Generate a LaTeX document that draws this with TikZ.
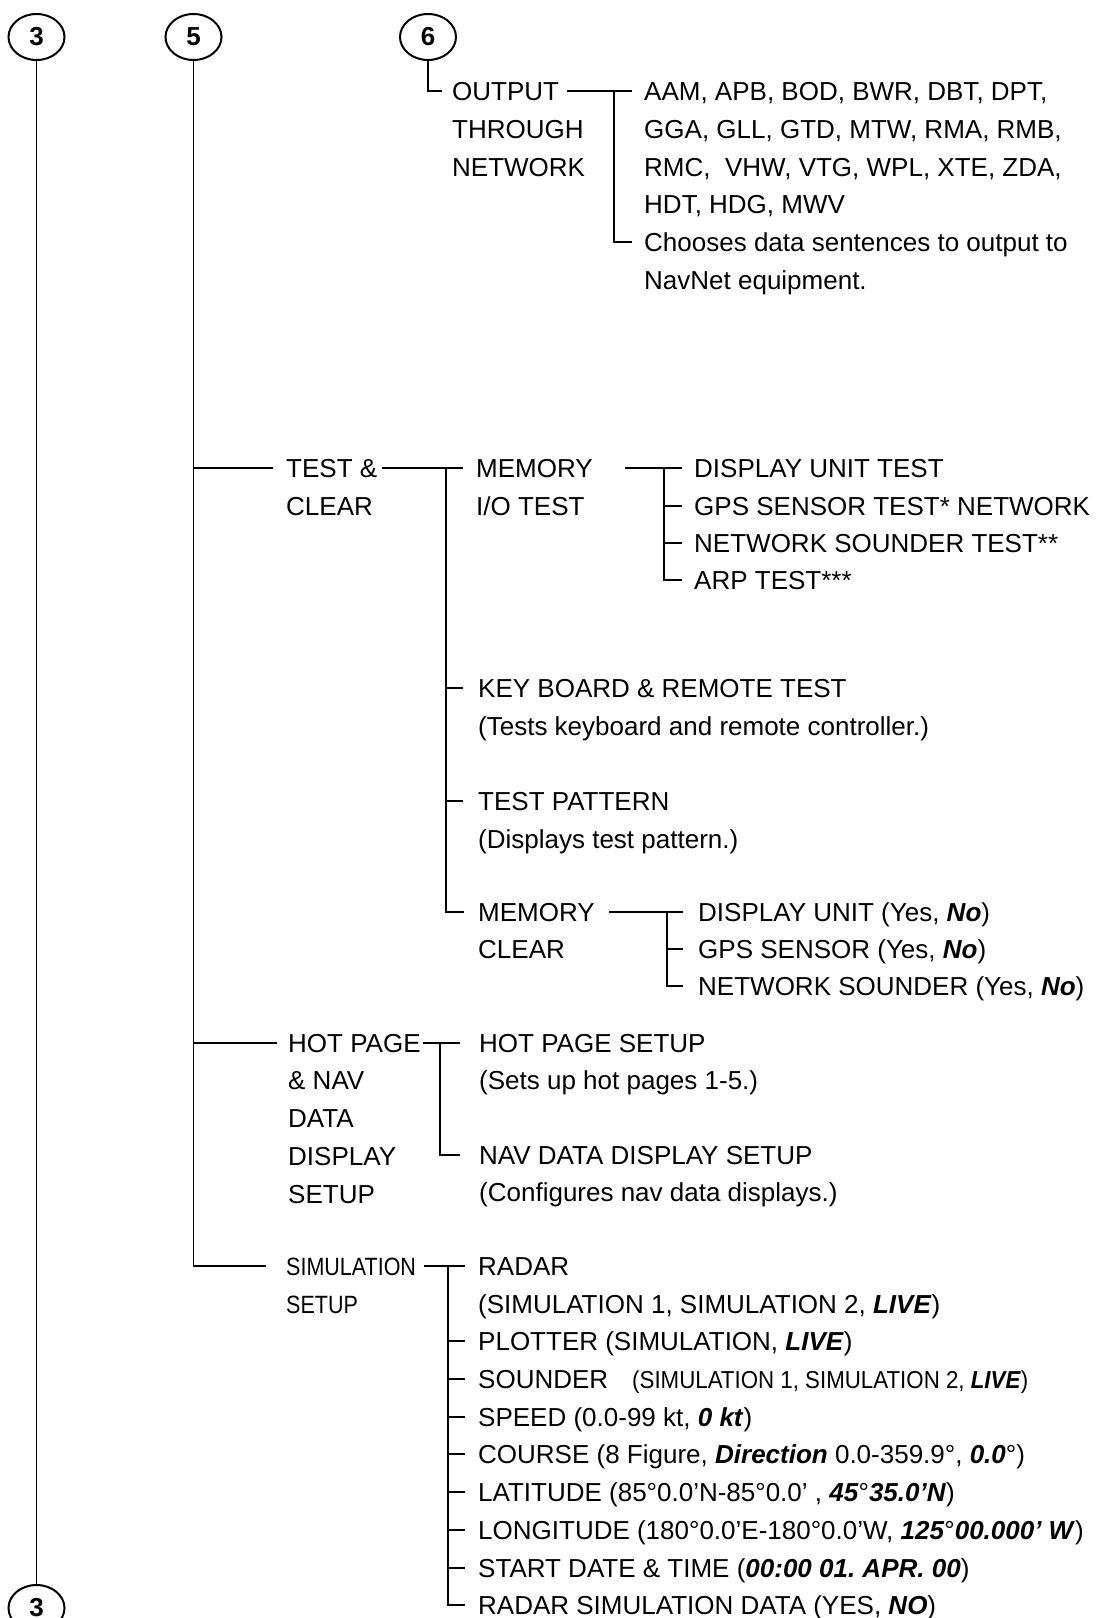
\documentclass[tikz,border=0pt]{standalone}
\usepackage{fontspec}
\setmainfont{Liberation Sans}
\newfontfamily\narrowfont[FakeStretch=0.86]{Liberation Sans}
\newfontfamily\narrowb[FakeStretch=0.91]{Liberation Sans}
\usetikzlibrary{shapes.geometric}
\newcommand\bfit[1]{\textbf{\textit{#1}}}
\frenchspacing
\tikzset{
  t/.style={anchor=west, inner sep=0pt, text height=18.6pt, text depth=0pt, font=\fontsize{26}{31}\selectfont},
  tn/.style={t, font=\fontsize{25}{30}\selectfont\narrowfont},
  ln/.style={line width=1.3pt, line cap=butt},
  circ/.style={draw, ellipse, line width=2pt, minimum width=56pt, minimum height=46pt, inner sep=0pt, font=\fontsize{26}{31}\selectfont\bfseries}
}
\begin{document}
\begin{tikzpicture}[x=1pt,y=-1pt]
\useasboundingbox (0,0) rectangle (1101,1618);
% circles
\node[circ] (c3) at (36.5,37) {3};
\node[circ] (c5) at (193.5,37) {5};
\node[circ] (c6) at (428,37) {6};
\node[circ] (c3b) at (36.5,1608) {3};
\draw[ln] (c3.south) -- (c3b.north);

% ---- output through network
\node[t] (out1) at (452,91) {OUTPUT};
\node[t] (out2) at (452,129) {THROUGH};
\node[t] (out3) at (452,167) {NETWORK};
\node[t] (s1) at (644,91) {AAM, APB, BOD, BWR, DBT, DPT,};
\node[t] (s2) at (644,129) {GGA, GLL, GTD, MTW, RMA, RMB,};
\node[t] (s3) at (644,167) {RMC, \ VHW, VTG, WPL, XTE, ZDA,};
\node[t] (s4) at (644,204) {HDT, HDG, MWV};
\node[t] (s5) at (644,242) {Chooses data sentences to output to};
\node[t] (s6) at (644,280) {NavNet equipment.};
\draw[ln] (c6.south) |- ([xshift=-10pt]out1.west);
\draw[ln] ([xshift=8pt]out1.east) -- ([xshift=-12pt]s1.west);
\coordinate (j6) at (614,91);
\draw[ln] (j6) |- ([xshift=-12pt]s5.west);

% ---- test & clear
\node[t] (tc1) at (286,468) {TEST \&};
\node[t] (tc2) at (286,506) {CLEAR};
\draw[ln] (c5.south |- tc1.west) -- ([xshift=-13pt]tc1.west);
\node[t] (mio1) at (476,468) {MEMORY};
\node[t] (mio2) at (476,506) {I/O TEST};
\draw[ln] ([xshift=5pt]tc1.east) -- ([xshift=-13pt]mio1.west);
\node[t] (kb1) at (478,688) {KEY BOARD \& REMOTE TEST};
\node[t] (kb2) at (478,726) {(Tests keyboard and remote controller.)};
\node[t] (tp1) at (478,801) {TEST PATTERN};
\node[t] (tp2) at (478,839) {(Displays test pattern.)};
\node[t] (mc1) at (478,912) {MEMORY};
\node[t] (mc2) at (478,949) {CLEAR};
\coordinate (jt) at (446,468);
\draw[ln] (jt) |- ([xshift=-14pt]mc1.west);
\draw[ln] (jt |- kb1.west) -- ([xshift=-15pt]kb1.west);
\draw[ln] (jt |- tp1.west) -- ([xshift=-15pt]tp1.west);

\node[t] (d1) at (694,468) {DISPLAY UNIT TEST};
\node[t] (d2) at (694,506) {GPS SENSOR TEST* NETWORK};
\node[t] (d3) at (694,543) {NETWORK SOUNDER TEST**};
\node[t] (d4) at (694,580) {ARP TEST***};
\draw[ln] ([xshift=32pt]mio1.east) -- ([xshift=-12pt]d1.west);
\coordinate (jm) at (664,468);
\draw[ln] (jm) |- ([xshift=-12pt]d4.west);
\draw[ln] (jm |- d2.west) -- ([xshift=-12pt]d2.west);
\draw[ln] (jm |- d3.west) -- ([xshift=-12pt]d3.west);

\node[t] (m1) at (698,912) {DISPLAY UNIT (Yes, \bfit{No})};
\node[t] (m2) at (698,949) {GPS SENSOR (Yes, \bfit{No})};
\node[t] (m3) at (698,986) {NETWORK SOUNDER (Yes, \bfit{No})};
\draw[ln] ([xshift=14pt]mc1.east) -- ([xshift=-15pt]m1.west);
\coordinate (jc) at (667,912);
\draw[ln] (jc) |- ([xshift=-15pt]m3.west);
\draw[ln] (jc |- m2.west) -- ([xshift=-15pt]m2.west);

% ---- hot page
\node[t] (hp1) at (288,1043) {HOT PAGE};
\node[t] (hp2) at (288,1080) {\& NAV};
\node[t] (hp3) at (288,1118) {DATA};
\node[t] (hp4) at (288,1156) {DISPLAY};
\node[t] (hp5) at (288,1194) {SETUP};
\draw[ln] (c5.south |- hp1.west) -- ([xshift=-11pt]hp1.west);
\node[t] (hs1) at (479,1043) {HOT PAGE SETUP};
\node[t] (hs2) at (479,1080) {(Sets up hot pages 1-5.)};
\node[t] (hs3) at (479,1155) {NAV DATA DISPLAY SETUP};
\node[t] (hs4) at (479,1192) {(Configures nav data displays.)};
\draw[ln] ([xshift=2pt]hp1.east) -- ([xshift=-19pt]hs1.west);
\coordinate (jh) at (440,1043);
\draw[ln] (jh) |- ([xshift=-19pt]hs3.west);

% ---- simulation
\node[tn] (ss1) at (286,1266) {SIMULATION};
\node[tn] (ss2) at (286,1304) {SETUP};
\draw[ln] (c5.south) |- ([xshift=-20pt]ss1.west);
\node[t] (r0) at (478,1266) {RADAR};
\node[t] (r1) at (478,1304) {(SIMULATION 1, SIMULATION 2, \bfit{LIVE})};
\node[t] (r2) at (478,1341) {PLOTTER (SIMULATION, \bfit{LIVE})};
\node[t] (r3) at (478,1379) {SOUNDER\hspace{24pt}{\narrowb\fontsize{24.5}{28}\selectfont(SIMULATION 1, SIMULATION 2, \bfit{LIVE})}};
\node[t] (r4) at (478,1417) {SPEED (0.0-99 kt, \bfit{0 kt})};
\node[t] (r5) at (478,1454) {COURSE (8 Figure, \bfit{Direction} 0.0-359.9°, \bfit{0.0}°)};
\node[t] (r6) at (478,1492) {LATITUDE (85°0.0’N-85°0.0’ , \bfit{45}°\bfit{35.0’N})};
\node[t] (r7) at (478,1530) {LONGITUDE (180°0.0’E-180°0.0’W, \bfit{125}°\bfit{00.000’ W})};
\node[t] (r8) at (478,1568) {START DATE \& TIME (\bfit{00:00 01. APR. 00})};
\node[t] (r9) at (478,1605) {RADAR SIMULATION DATA (YES, \bfit{NO})};
\draw[ln] ([xshift=8pt]ss1.east) -- ([xshift=-13pt]r0.west);
\coordinate (js) at (448,1266);
\draw[ln] (js) |- ([xshift=-13pt]r9.west);
\foreach \n in {r2,r3,r4,r5,r6,r7,r8}{
  \draw[ln] (js |- \n.west) -- ([xshift=-13pt]\n.west);
}
\end{tikzpicture}
\end{document}
